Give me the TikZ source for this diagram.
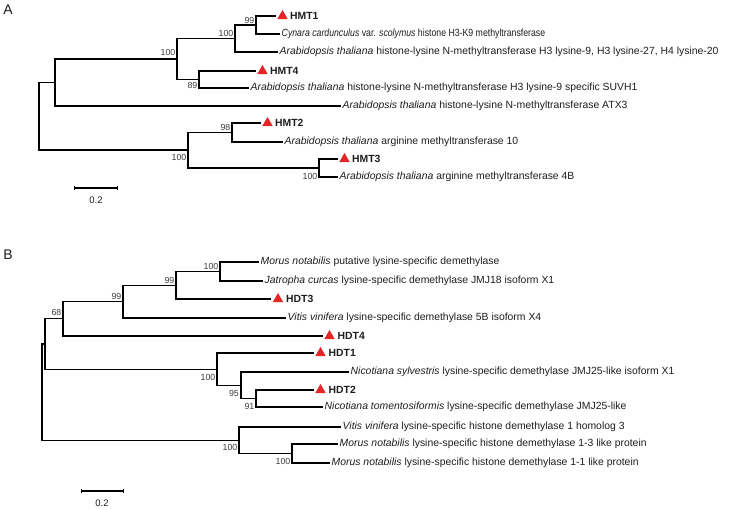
\documentclass[tikz,border=0pt]{standalone}
\usepackage{fontspec}
\usepackage{graphicx}
\setmainfont{Liberation Sans}
\usetikzlibrary{shapes.geometric,arrows.meta}
\definecolor{hitred}{RGB}{228,38,38}
\definecolor{txt}{RGB}{30,30,30}
\definecolor{boottxt}{RGB}{60,60,60}
\tikzset{
  branch/.style={line width=1.2pt, black, line cap=rect},
  leaf/.style={anchor=west, inner sep=0pt, xshift=2.5pt, text=txt, font=\fontsize{10.4}{12}\selectfont},
  hitname/.style={anchor=west, inner sep=0pt, text=txt, font=\fontsize{10.4}{12}\selectfont\bfseries},
  hitmark/.style={regular polygon, regular polygon sides=3, fill=hitred, inner sep=0pt, minimum size=12pt},
  boot/.style={anchor=east, inner sep=0pt, text=boottxt, font=\fontsize{8.8}{10}\selectfont},
  panel/.style={inner sep=0pt, text=txt, font=\fontsize{14}{16}\selectfont},
  scalebar/.style={line width=1.2pt, black, {Bar[width=4pt]}-{Bar[width=4pt]}},
  scalelabel/.style={inner sep=0pt, text=txt, font=\fontsize{9.5}{11}\selectfont}
}
\begin{document}
\begin{tikzpicture}[x=1pt,y=-1pt]
\useasboundingbox[fill=white] (0,0) rectangle (752,509);

% ---------------- Panel A ----------------
\node[panel] (pA) at (8,10) {A};
% leaves
\coordinate (a1) at (275,16);
\coordinate (a2) at (279,34);
\coordinate (a3) at (277,52);
\coordinate (a4) at (255,71);
\coordinate (a5) at (248,88);
\coordinate (a6) at (340,106);
\coordinate (a7) at (260,123);
\coordinate (a8) at (282,142);
\coordinate (a9) at (337,159);
\coordinate (a10) at (337,177);
% internal nodes
\coordinate (nA99) at (256,25);
\coordinate (nA100a) at (235,38.5);
\coordinate (nA89) at (199,79.5);
\coordinate (nA100b) at (177,59);
\coordinate (nAx) at (55,82.5);
\coordinate (nA98) at (232,132.5);
\coordinate (nA100d) at (319,168);
\coordinate (nA100c) at (188,150);
\coordinate (rootA) at (39,116);
% branches
\draw[branch] (nA99) |- (a1);
\draw[branch] (nA99) |- (a2);
\draw[branch] (nA100a) |- (nA99);
\draw[branch] (nA100a) |- (a3);
\draw[branch] (nA89) |- (a4);
\draw[branch] (nA89) |- (a5);
\draw[branch] (nA100b) |- (nA100a);
\draw[branch] (nA100b) |- (nA89);
\draw[branch] (nAx) |- (nA100b);
\draw[branch] (nAx) |- (a6);
\draw[branch] (nA98) |- (a7);
\draw[branch] (nA98) |- (a8);
\draw[branch] (nA100d) |- (a9);
\draw[branch] (nA100d) |- (a10);
\draw[branch] (nA100c) |- (nA98);
\draw[branch] (nA100c) |- (nA100d);
\draw[branch] (rootA) |- (nAx);
\draw[branch] (rootA) |- (nA100c);
% leaf labels
\node[hitmark] (mA1) at ([xshift=7.5pt]a1) {};
\node[hitname] (tA1) at ([xshift=15pt]a1) {HMT1};
\node[leaf] (tA2) at (a2) {\scalebox{0.84}[1]{\textit{Cynara cardunculus} var. \textit{scolymus} histone H3-K9 methyltransferase}};
\node[leaf] (tA3) at (a3) {\textit{Arabidopsis thaliana} histone-lysine N-methyltransferase H3 lysine-9, H3 lysine-27, H4 lysine-20};
\node[hitmark] (mA4) at ([xshift=7.5pt]a4) {};
\node[hitname] (tA4) at ([xshift=15pt]a4) {HMT4};
\node[leaf] (tA5) at (a5) {\textit{Arabidopsis thaliana} histone-lysine N-methyltransferase H3 lysine-9 specific SUVH1};
\node[leaf] (tA6) at (a6) {\textit{Arabidopsis thaliana} histone-lysine N-methyltransferase ATX3};
\node[hitmark] (mA7) at ([xshift=7.5pt]a7) {};
\node[hitname] (tA7) at ([xshift=15pt]a7) {HMT2};
\node[leaf] (tA8) at (a8) {\textit{Arabidopsis thaliana} arginine methyltransferase 10};
\node[hitmark] (mA9) at ([xshift=7.5pt]a9) {};
\node[hitname] (tA9) at ([xshift=15pt]a9) {HMT3};
\node[leaf] (tA10) at (a10) {\textit{Arabidopsis thaliana} arginine methyltransferase 4B};
% bootstrap values
\node[boot] (bA99) at (254.5,20) {99};
\node[boot] (bA100a) at (233.5,33) {100};
\node[boot] (bA100b) at (175.5,52.5) {100};
\node[boot] (bA89) at (197.5,85) {89};
\node[boot] (bA98) at (230.5,127) {98};
\node[boot] (bA100c) at (186.5,157.5) {100};
\node[boot] (bA100d) at (317.5,176) {100};
% scale bar
\coordinate (sA1) at (74,188);
\coordinate (sA2) at (118,188);
\draw[scalebar] (sA1) -- (sA2);
\node[scalelabel] (sAl) at (96,200) {0.2};

% ---------------- Panel B ----------------
\node[panel] (pB) at (8,255) {B};
% leaves
\coordinate (b1) at (258,262);
\coordinate (b2) at (262,281);
\coordinate (b3) at (270,299);
\coordinate (b4) at (285,318);
\coordinate (b5) at (322,336);
\coordinate (b6) at (313,353);
\coordinate (b7) at (348,372);
\coordinate (b8) at (313,390);
\coordinate (b9) at (322,407);
\coordinate (b10) at (340,427);
\coordinate (b11) at (337,444);
\coordinate (b12) at (329,463);
% internal nodes
\coordinate (nB100a) at (220,271.5);
\coordinate (nB99a) at (176,285.25);
\coordinate (nB99b) at (123,301.6);
\coordinate (nB68) at (63,318.8);
\coordinate (nB91) at (256,398.5);
\coordinate (nB95) at (241,385.25);
\coordinate (nB100b) at (217,369.1);
\coordinate (nBx) at (45,344);
\coordinate (nB100d) at (292,453.5);
\coordinate (nB100c) at (239,440.25);
\coordinate (rootB) at (42,392);
% branches
\draw[branch] (nB100a) |- (b1);
\draw[branch] (nB100a) |- (b2);
\draw[branch] (nB99a) |- (nB100a);
\draw[branch] (nB99a) |- (b3);
\draw[branch] (nB99b) |- (nB99a);
\draw[branch] (nB99b) |- (b4);
\draw[branch] (nB68) |- (nB99b);
\draw[branch] (nB68) |- (b5);
\draw[branch] (nB91) |- (b8);
\draw[branch] (nB91) |- (b9);
\draw[branch] (nB95) |- (b7);
\draw[branch] (nB95) |- (nB91);
\draw[branch] (nB100b) |- (b6);
\draw[branch] (nB100b) |- (nB95);
\draw[branch] (nBx) |- (nB68);
\draw[branch] (nBx) |- (nB100b);
\draw[branch] (nB100d) |- (b11);
\draw[branch] (nB100d) |- (b12);
\draw[branch] (nB100c) |- (b10);
\draw[branch] (nB100c) |- (nB100d);
\draw[branch] (rootB) |- (nBx);
\draw[branch] (rootB) |- (nB100c);
% leaf labels
\node[leaf] (tB1) at (b1) {\textit{Morus notabilis} putative lysine-specific demethylase};
\node[leaf] (tB2) at (b2) {\textit{Jatropha curcas} lysine-specific demethylase JMJ18 isoform X1};
\node[hitmark] (mB3) at ([xshift=8pt]b3) {};
\node[hitname] (tB3) at ([xshift=16pt]b3) {HDT3};
\node[leaf] (tB4) at (b4) {\textit{Vitis vinifera} lysine-specific demethylase 5B isoform X4};
\node[hitmark] (mB5) at ([xshift=7.5pt]b5) {};
\node[hitname] (tB5) at ([xshift=15.5pt]b5) {HDT4};
\node[hitmark] (mB6) at ([xshift=7.5pt]b6) {};
\node[hitname] (tB6) at ([xshift=15.5pt]b6) {HDT1};
\node[leaf] (tB7) at (b7) {\textit{Nicotiana sylvestris} lysine-specific demethylase JMJ25-like isoform X1};
\node[hitmark] (mB8) at ([xshift=7.5pt]b8) {};
\node[hitname] (tB8) at ([xshift=15.5pt]b8) {HDT2};
\node[leaf] (tB9) at (b9) {\textit{Nicotiana tomentosiformis} lysine-specific demethylase JMJ25-like};
\node[leaf] (tB10) at (b10) {\textit{Vitis vinifera} lysine-specific histone demethylase 1 homolog 3};
\node[leaf] (tB11) at (b11) {\textit{Morus notabilis} lysine-specific histone demethylase 1-3 like protein};
\node[leaf] (tB12) at (b12) {\textit{Morus notabilis} lysine-specific histone demethylase 1-1 like protein};
% bootstrap values
\node[boot] (bB100a) at (218.5,266) {100};
\node[boot] (bB99a) at (174.5,280) {99};
\node[boot] (bB99b) at (121.5,296) {99};
\node[boot] (bB68) at (61.5,312) {68};
\node[boot] (bB100b) at (215.5,377) {100};
\node[boot] (bB95) at (239,393) {95};
\node[boot] (bB91) at (254.5,406) {91};
\node[boot] (bB100c) at (237.5,447) {100};
\node[boot] (bB100d) at (290.5,461) {100};
% scale bar
\coordinate (sB1) at (81,491);
\coordinate (sB2) at (124,491);
\draw[scalebar] (sB1) -- (sB2);
\node[scalelabel] (sBl) at (102,503) {0.2};
\end{tikzpicture}
\end{document}
